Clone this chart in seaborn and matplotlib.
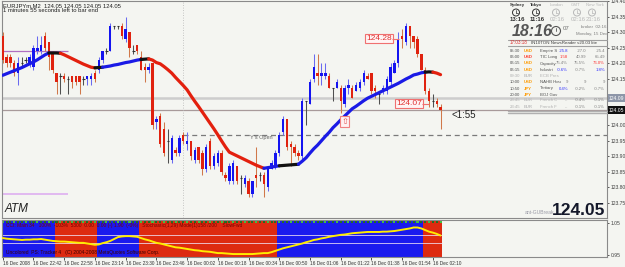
import numpy as np
import pandas as pd
import matplotlib
matplotlib.use("Agg")
import matplotlib.pyplot as plt
from matplotlib.patches import Ellipse, Rectangle
from matplotlib.lines import Line2D
import seaborn as sns

# ---------------- data ----------------
open_ = [124.29,124.22,124.22,124.20,124.17,124.20,124.21,124.20,124.19,124.24,
         124.24,124.29,124.27,124.23,124.17,124.16,124.16,124.15,124.16,124.16,
         124.16,124.15,124.15,124.15,124.17,124.18,124.21,124.24,124.24,124.32,
         124.32,124.32,124.28,124.30,124.24,124.26,124.22,124.19,124.18,124.20,
         124.01,124.03,123.99,123.95,123.89,123.92,123.91,123.97,123.94,123.95,
         123.89,123.93,123.91,123.86,123.95,123.87,123.88,123.91,123.84,123.82,
         123.82,123.87,123.83,123.81,123.82,123.78,123.84,123.84,123.84,123.80,
         123.86,123.87,123.91,123.98,124.02,123.94,123.93,123.91,123.90,124.08,
         124.07,124.15,124.17,124.16,124.16,124.16,124.12,124.12,124.12,124.07,
         124.12,124.12,124.11,124.12,124.14,124.16,124.17,124.12,124.10,124.11,
         124.11,124.14,124.17,124.20,124.29,124.27,124.32,124.29,124.28,124.23,
         124.18,124.11,124.08,124.08,124.06]
high_ = [124.30,124.23,124.23,124.21,124.22,124.22,124.22,124.23,124.26,124.29,
         124.29,124.30,124.27,124.24,124.17,124.17,124.17,124.16,124.16,124.16,
         124.16,124.16,124.16,124.17,124.18,124.22,124.24,124.25,124.33,124.32,
         124.32,124.33,124.35,124.30,124.26,124.26,124.24,124.20,124.20,124.20,
         124.03,124.04,124.01,123.99,123.97,123.93,123.97,123.98,123.98,123.95,
         123.93,123.93,123.92,123.94,123.96,123.91,123.92,123.92,123.85,123.88,
         123.89,123.87,123.84,123.84,123.83,123.82,123.93,123.85,123.85,123.87,
         123.89,123.92,123.98,124.03,124.02,123.95,123.94,123.92,124.09,124.08,
         124.15,124.23,124.23,124.20,124.20,124.17,124.12,124.15,124.13,124.13,
         124.15,124.13,124.14,124.15,124.18,124.17,124.17,124.13,124.11,124.13,
         124.16,124.20,124.21,124.30,124.31,124.33,124.32,124.29,124.29,124.23,
         124.19,124.12,124.10,124.09,124.07]
low_ = [124.20,124.19,124.19,124.16,124.13,124.19,124.20,124.19,124.18,124.23,
        124.23,124.24,124.18,124.17,124.10,124.10,124.14,124.10,124.12,124.13,
        124.10,124.13,124.13,124.13,124.14,124.17,124.20,124.23,124.24,124.31,
        124.31,124.28,124.27,124.22,124.23,124.23,124.18,124.14,124.17,123.99,
        123.99,123.93,123.90,123.88,123.88,123.90,123.90,123.94,123.92,123.89,
        123.88,123.88,123.84,123.85,123.86,123.86,123.87,123.84,123.82,123.81,
        123.81,123.81,123.78,123.80,123.77,123.77,123.80,123.82,123.77,123.79,
        123.86,123.86,123.90,123.97,123.92,123.87,123.90,123.89,123.89,124.00,
        124.07,124.14,124.13,124.13,124.15,124.12,124.08,124.12,124.04,124.06,
        124.10,124.09,124.11,124.11,124.13,124.15,124.10,124.09,124.07,124.10,
        124.10,124.13,124.17,124.19,124.25,124.26,124.25,124.25,124.22,124.18,
        124.10,124.06,124.06,124.06,123.99]
close_ = [124.21,124.20,124.20,124.17,124.20,124.20,124.21,124.22,124.25,124.25,
          124.26,124.25,124.22,124.18,124.14,124.16,124.15,124.15,124.14,124.14,
          124.14,124.15,124.16,124.16,124.15,124.21,124.24,124.24,124.32,124.32,
          124.32,124.29,124.31,124.25,124.24,124.24,124.18,124.18,124.19,124.00,
          124.02,123.94,123.91,123.95,123.96,123.91,123.96,123.95,123.95,123.90,
          123.92,123.89,123.86,123.93,123.87,123.90,123.91,123.85,123.83,123.87,
          123.88,123.82,123.83,123.83,123.78,123.82,123.83,123.84,123.81,123.86,
          123.88,123.91,123.97,124.02,123.93,123.93,123.91,123.90,124.08,124.08,
          124.14,124.19,124.16,124.17,124.17,124.12,124.12,124.14,124.08,124.12,
          124.13,124.09,124.13,124.14,124.17,124.15,124.11,124.11,124.10,124.12,
          124.15,124.19,124.20,124.28,124.28,124.32,124.29,124.27,124.23,124.18,
          124.11,124.08,124.08,124.07,124.05]
ma_ = [124.162,124.167,124.172,124.177,124.182,124.187,124.193,124.199,124.205,124.212,
       124.220,124.228,124.234,124.234,124.234,124.233,124.228,124.222,124.216,124.210,
       124.204,124.198,124.193,124.188,124.186,124.187,124.188,124.190,124.192,124.195,
       124.197,124.200,124.203,124.205,124.208,124.211,124.213,124.214,124.215,124.211,
       124.203,124.199,124.190,124.180,124.169,124.155,124.142,124.129,124.115,124.096,
       124.078,124.061,124.043,124.025,124.007,123.989,123.970,123.950,123.931,123.914,
       123.908,123.902,123.896,123.890,123.884,123.878,123.872,123.867,123.862,123.864,
       123.866,123.868,123.870,123.871,123.872,123.873,123.874,123.875,123.885,123.896,
       123.911,123.925,123.937,123.951,123.965,123.978,123.993,124.005,124.018,124.030,
       124.042,124.054,124.062,124.071,124.080,124.088,124.094,124.100,124.106,124.112,
       124.118,124.124,124.130,124.136,124.143,124.150,124.156,124.163,124.166,124.170,
       124.172,124.173,124.172,124.169,124.164]
osc_ = [1.003,1.001,1.000,0.999,0.998,0.997,0.998,0.998,0.999,0.999,
        1.000,0.998,0.996,0.994,0.993,0.992,0.992,0.991,0.990,0.989,
        0.988,0.988,0.986,0.984,0.982,0.983,0.987,0.990,0.994,1.000,
        1.006,1.008,1.009,1.009,1.008,1.007,1.003,0.999,0.996,0.992,
        0.988,0.986,0.983,0.980,0.977,0.974,0.973,0.971,0.969,0.967,
        0.965,0.964,0.962,0.961,0.960,0.958,0.956,0.956,0.955,0.954,
        0.953,0.953,0.953,0.953,0.953,0.953,0.954,0.955,0.956,0.956,
        0.959,0.963,0.967,0.971,0.974,0.977,0.980,0.983,0.986,0.990,
        0.993,0.997,0.999,1.002,1.004,1.007,1.009,1.011,1.013,1.014,
        1.016,1.018,1.019,1.020,1.021,1.022,1.022,1.022,1.022,1.023,
        1.023,1.024,1.025,1.027,1.029,1.031,1.033,1.036,1.036,1.033,
        1.028,1.023,1.020,1.016,1.011]
regime_runs = [(1, 14), (-1, 11), (1, 11), (-1, 36), (1, 38), (-1, 5)]
osc_levels = [1.0125, 0.9875]
time_labels = ["16 Dec 2008", "16 Dec 22:42", "16 Dec 22:58", "16 Dec 23:14", "16 Dec 23:30",
               "16 Dec 23:46", "16 Dec 00:02", "16 Dec 00:18", "16 Dec 00:34", "16 Dec 00:50",
               "16 Dec 01:06", "16 Dec 01:22", "16 Dec 01:38", "16 Dec 01:54", "16 Dec 02:10"]
price_ticks = [123.75, 123.80, 123.85, 123.90, 123.95, 124.00, 124.05, 124.10,
               124.15, 124.20, 124.25, 124.30, 124.35, 124.40]
osc_ticks = [0.95, 1.05]
bid, ask = 124.05, 124.09
y_open = 123.97
session_bar = 47
level_hi, level_lo = 124.24, 123.78
mark_hi, mark_lo = 124.28, 124.07
news_rows = [("05:30", "USD", "Empire S", "-25.8", "-27.0", "-25.4"),
             ("06:00", "USD", "TIC Long", "1.58", "40.99", "65.49"),
             ("06:15", "USD", "Capacity", "75.4%", "75.5%", "76.0%"),
             ("06:15", "USD", "Industri", "-0.6%", "-0.7%", "1.8%"),
             ("09:30", "EUR", "ECB Pres", "", "", ""),
             ("10:00", "USD", "NAHB Hou", "9", "9", "9"),
             ("10:50", "JPY", "Tertiary", "0.4%", "-0.2%", "-0.7%"),
             ("20:00", "JPY", "BOJ Gov", "", "", ""),
             ("23:45", "EUR", "French C", "...", "-0.4%", "-0.1%"),
             ("23:45", "EUR", "French F", "...", "-0.1%", "-0.1%")]

# ---------------- figure ----------------
sns.set_style("white")
plt.rcParams['font.family'] = ['Liberation Sans', 'DejaVu Sans']

W, H = 625, 267
BG = '#f4f5f1'
fig = plt.figure(figsize=(W / 100, H / 100), dpi=100)
fig.patch.set_facecolor(BG)

def fx(x):
    return x / W

def fy(y):
    return 1 - y / H

ax = fig.add_axes([fx(2), fy(218), fx(607) - fx(2), fy(1) - fy(218)])
ax2 = fig.add_axes([fx(2), fy(257), fx(607) - fx(2), fy(220) - fy(257)])
for a in (ax, ax2):
    a.set_facecolor(BG)
    for s in a.spines.values():
        s.set_color('#8a8a8a')
        s.set_linewidth(0.8)

df = pd.DataFrame(dict(bar=np.arange(len(close_)), open=open_, high=high_,
                       low=low_, close=close_, ma=ma_, osc=osc_))
x = df.bar.values
o, h, l, c = df.open.values, df.high.values, df.low.values, df.close.values
bull, bear, doji = c > o, c < o, c == o

# horizontal reference lines
ax.axhline(ask, color='#cdcdcd', lw=1.8, zorder=1)
ax.axhline(bid, color='#a89a9a', lw=0.9, zorder=1)
ax.hlines(y_open, session_bar, 160, color='#7a7a7a', lw=0.9, linestyles=(0, (4, 3)), zorder=1)
ax.axvline(session_bar, color='#b5b5b5', lw=0.6, ls=(0, (1, 2)), zorder=1)
ax.hlines(level_hi, -0.5, 17, color='#b070c0', lw=0.9, zorder=2)
ax.hlines(level_lo, -0.5, 17, color='#e0b4f0', lw=1.3, zorder=2)
ax.text(64.5, y_open - 0.008, "Y's Open", fontsize=4.0, color='#606060', va='center', zorder=2)

# candles
wick_col = np.where(bull, '#6a6af0', np.where(bear, '#d0784a', '#505050'))
ax.vlines(x, l, h, colors=wick_col, lw=0.75, zorder=3)
body_col = np.where(bull, '#1414f0', '#e0220f')
nd = ~doji
ax.bar(x[nd], np.abs(c - o)[nd], bottom=np.minimum(o, c)[nd], width=0.62,
       color=body_col[nd], lw=0, zorder=4)
ax.hlines(c[doji], x[doji] - 0.35, x[doji] + 0.35, colors='#303030', lw=0.8, zorder=4)

# moving average coloured by slope
ma = df.ma.values
d = np.diff(ma)
state = np.where(d > 0.0015, 1, np.where(d < -0.0015, -1, 0))
ma_cols = {1: '#1a1ae6', -1: '#e3200e', 0: '#111111'}
start = 0
for k in range(1, len(state) + 1):
    if k == len(state) or state[k] != state[start]:
        seg = slice(start, k + 1)
        sns.lineplot(x=x[seg], y=ma[seg], ax=ax, color=ma_cols[state[start]], lw=2.3,
                     legend=False, zorder=5, solid_capstyle='round')
        start = k

# price markers
ax.text(101.3, mark_hi, "124.28", ha='right', va='center', fontsize=6, color='#e03030', zorder=7,
        bbox=dict(boxstyle='square,pad=0.12', fc='#fff4f4', ec='#f07070', lw=0.8))
ax.hlines(mark_hi, 101.3, 103.2, color='#f07070', lw=0.8, zorder=7)
ax.text(109.1, mark_lo, "124.07", ha='right', va='center', fontsize=6, color='#e03030', zorder=7,
        bbox=dict(boxstyle='square,pad=0.12', fc='#fff4f4', ec='#f07070', lw=0.8))
ax.hlines(mark_lo, 109.1, 111.0, color='#f07070', lw=0.8, zorder=7)
ax.text(89, 124.012, "\u21e7", ha='center', va='center', fontsize=6, color='#e05050',
        family=['DejaVu Sans'], zorder=7,
        bbox=dict(boxstyle='square,pad=0.1', fc='#fff0f0', ec='#f08080', lw=0.8))

ax.set_xlim(-0.2, 157.35)
ax.set_ylim(123.7016, 124.4016)
ax.yaxis.tick_right()
ax.set_yticks(price_ticks)
# labels at the bid/ask rows are replaced by the coloured price boxes
ax.set_yticklabels(["" if v in (bid, 124.10) else f"{v:.2f}" for v in price_ticks])
ax.tick_params(axis='y', labelsize=3.6, length=1.5, width=0.6, pad=1.0, colors='#404040', right=True)
ax.tick_params(axis='x', bottom=False, labelbottom=False)
ax.set_xlabel('')
ax.set_ylabel('')

# ---------------- indicator panel ----------------
pos = 0
for sign, n in regime_runs:
    ax2.axvspan(pos - 0.5, pos + n - 0.5, color='#1a1aee' if sign > 0 else '#dd2a10', lw=0, zorder=0)
    pos += n
for lv in osc_levels:
    ax2.hlines(lv, -0.5, pos - 0.5, color='#f0e0f4', lw=0.7, alpha=0.8, zorder=1)
ax2.scatter(x, np.full(len(x), 1.054), marker='s', s=2.2,
            c=np.where(x % 3 == 0, '#40c040', '#1f6f1f'), lw=0, zorder=2)
sns.lineplot(x=x, y=df.osc.values, ax=ax2, color='#ffec00', lw=1.4, legend=False, zorder=3)
ax2.set_xlim(-0.2, 157.35)
ax2.set_ylim(0.9438, 1.0594)
ax2.yaxis.tick_right()
ax2.set_yticks(osc_ticks)
ax2.set_yticklabels([f"{v:.2f}" for v in osc_ticks])
ax2.tick_params(axis='y', labelsize=3.6, length=1.5, width=0.6, pad=1.0, colors='#404040', right=True)
ax2.set_xticks(list(range(0, len(x), 8)))
ax2.set_xticklabels(time_labels, ha='left')
ax2.tick_params(axis='x', labelsize=3.4, length=2, width=0.6, pad=1.2, colors='#303030', bottom=True)
ax2.set_xlabel('')
ax2.set_ylabel('')
ax2.text(0.007, 0.84, "CCI: Main 34   100%  -103%  5300  0.00  0.00 (-) 1.90  (-0%)   Stochastic(1,29) Mode(1)158 /200    SlowFwd",
         transform=ax2.transAxes, fontsize=3.5, color='#7a0000', va='center', zorder=4)
ax2.text(0.007, 0.12, "Uncolored  PS: Tracker 4   (C) 2004-2008 MetaQuotes Software Corp.",
         transform=ax2.transAxes, fontsize=3.5, color='#3a0000', va='center', zorder=4)

# ---------------- overlay texts ----------------
def t(xp, yp, s, **kw):
    return fig.text(fx(xp), fy(yp), s, **kw)

t(3, 5.5, "EURJPYm,M2  124.05 124.05 124.05 124.05", fontsize=4.2, color='#202020', va='center')
t(3, 10.5, "1 minutes 55 seconds left to bar end", fontsize=4.2, color='#202020', va='center')
t(5, 212, "ATM", fontsize=8.5, style='italic', color='#222222', va='baseline')
t(554, 214, "ant-GUBreak", fontsize=3.6, color='#9a9aa6', va='baseline', ha='right')
t(605, 215, "124.05", fontsize=12.5, weight='bold', color='#14182a', ha='right', va='baseline')
t(451, 118, "<1:55", fontsize=7, color='#222222', va='baseline')

# right-axis price boxes
for yy, txt, fc in [(98, "124.09", '#8d96a8'), (110, "124.05", '#111111')]:
    fig.add_artist(Rectangle((fx(608), fy(yy + 4)), 17 / W, 8 / H, transform=fig.transFigure,
                             fc=fc, ec='none', zorder=10))
    t(609, yy, txt, fontsize=3.6, color='white', va='center', zorder=11)

# world clocks
clock_names = ["Sydney", "Tokyo", "London", "GMT", "New York"]
clock_times = ["13:16", "11:16", "02:16", "02:16", "21:16"]
clock_x = [510, 530, 550, 571, 586]
for i, (nm, tm, cx) in enumerate(zip(clock_names, clock_times, clock_x)):
    col = '#303030' if i < 2 else '#b8b8b8'
    t(cx, 5, nm, fontsize=3.1, color=col, va='center', weight='bold' if i < 2 else 'normal')
    ccx = cx + 6
    fig.add_artist(Ellipse((fx(ccx), fy(12.5)), 7 / W, 7 / H, transform=fig.transFigure,
                           fill=False, ec=col, lw=0.7))
    fig.add_artist(Line2D([fx(ccx), fx(ccx)], [fy(12.5), fy(10)], transform=fig.transFigure, color=col, lw=0.5))
    fig.add_artist(Line2D([fx(ccx), fx(ccx + 2)], [fy(12.5), fy(12.5)], transform=fig.transFigure, color=col, lw=0.5))
    t(cx, 19.5, tm, fontsize=4.3, color=col, va='center', weight='bold' if i < 2 else 'normal')
t(512, 36, "18:16", fontsize=11.5, weight='bold', style='italic', color='#555555', va='baseline')
fig.add_artist(Ellipse((fx(556), fy(31)), 9 / W, 9 / H, transform=fig.transFigure, fill=False, ec='#555555', lw=0.8))
fig.add_artist(Line2D([fx(556), fx(556)], [fy(31), fy(28)], transform=fig.transFigure, color='#555555', lw=0.6))
t(563, 28, "07", fontsize=4.3, color='#707070', va='center')
t(581, 27, "broker  02:16", fontsize=3.2, color='#808080', va='center')
t(576, 34, "Monday, 15 Dec", fontsize=3.2, color='#808080', va='center')
for yy in (39.5, 46):
    fig.add_artist(Line2D([fx(508), fx(607)], [fy(yy), fy(yy)], transform=fig.transFigure, color='#a0a0a0', lw=0.8))
t(510, 43, "17:03:18", fontsize=3.3, color='#e03030', va='center')
t(531, 43, "IN10TON NewsReader v20.03 lite", fontsize=3.2, color='#404040', va='center')
row_y = [51, 57, 63.5, 70, 76, 82, 88.5, 94.5, 100.5, 107]
cur_col = {"USD": '#ff9a00', "EUR": '#c0c0c0', "JPY": '#ff9a00'}
for (tm, cur, ev, a, b, cc), yy in zip(news_rows, row_y):
    faded = cur == "EUR"
    base = '#b0b0b0' if faded else '#505050'
    t(510, yy, tm, fontsize=3.1, color=base, va='center')
    t(524, yy, cur, fontsize=3.1, color='#ff3a2a' if tm == "06:00" else cur_col[cur], va='center', weight='bold')
    t(540, yy, ev, fontsize=3.1, color=base, va='center')
    acol = '#3030ff' if a.startswith('-') or a == "0.4%" else ('#ff3030' if a == "1.58" else '#808080')
    ccol = '#ff3030' if cc == "76.0%" else ('#3030ff' if cc == "1.8%" else '#808080')
    t(568, yy, a, fontsize=3.1, color=acol, va='center', ha='right')
    t(586, yy, b, fontsize=3.1, color='#808080', va='center', ha='right')
    t(605, yy, cc, fontsize=3.1, color=ccol, va='center', ha='right')
for yy in (111, 113):
    fig.add_artist(Line2D([fx(508), fx(607)], [fy(yy), fy(yy)], transform=fig.transFigure, color='#b0b0b0', lw=1.0))

fig.savefig('out.png', dpi=100, facecolor=fig.get_facecolor())
